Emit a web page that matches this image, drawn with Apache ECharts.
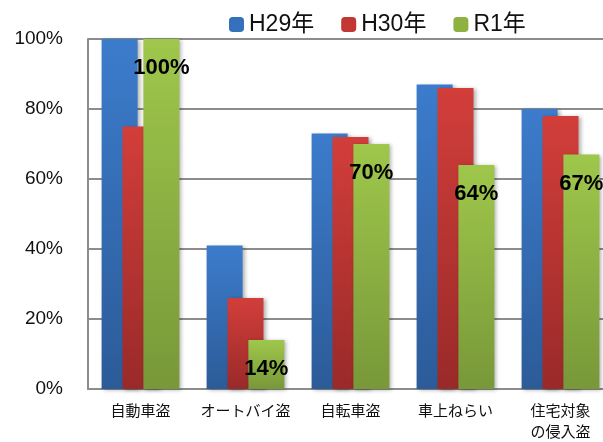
<!DOCTYPE html>
<html><head><meta charset="utf-8">
<script src="https://cdn.jsdelivr.net/npm/echarts@6/dist/echarts.min.js"></script>
<style>html,body{margin:0;padding:0;background:#fff;overflow:hidden;width:603px;height:442px}#c{width:613px;height:442px}</style>
</head><body><div id="c"></div>
<script>
var categories = ['自動車盗', 'オートバイ盗', '自転車盗', '車上ねらい', '住宅対象\nの侵入盗'];
var seriesNames = ['H29年', 'H30年', 'R1年'];
var h29 = [100, 41, 73, 87, 80];
var h30 = [75, 26, 72, 86, 78];
var r1 = [100, 14, 70, 64, 67];
var yTicks = [0, 20, 40, 60, 80, 100];

function grad(top, bottom) {
  return new echarts.graphic.LinearGradient(0, 0, 0, 1, [
    {offset: 0, color: top}, {offset: 1, color: bottom}
  ]);
}
var colors = [grad('#3c7ccc', '#2c5b98'), grad('#d23e3a', '#992a29'), grad('#9fc74b', '#789839')];
var legendColors = ['#3570bb', '#c23633', '#8db242'];
var shadow = {shadowBlur: 4, shadowColor: 'rgba(0,0,0,0.3)', shadowOffsetX: 2, shadowOffsetY: 1};

function makeSeries(i, data, extra) {
  var s = {
    name: seriesNames[i], type: 'bar', data: data, barWidth: 36, barGap: '-42%',
    itemStyle: Object.assign({color: colors[i]}, shadow)
  };
  return Object.assign(s, extra || {});
}

var chart = echarts.init(document.getElementById('c'));
chart.setOption({
  animation: false,
  textStyle: {fontFamily: '"Liberation Sans", "Noto Sans CJK JP", sans-serif'},
  legend: {
    left: 224, top: 8, itemWidth: 15, itemHeight: 15, itemGap: 27,
    textStyle: {fontSize: 23, color: '#111', fontFamily: '"Liberation Sans", "Noto Sans CJK JP", sans-serif'},
    data: seriesNames.map(function (n, i) { return {name: n, itemStyle: {color: legendColors[i]}}; })
  },
  grid: {left: 88, right: 0, top: 39, bottom: 44, containLabel: false},
  xAxis: {
    type: 'category', data: categories,
    axisLine: {lineStyle: {color: '#8c8c8c', width: 2}},
    axisTick: {show: false},
    axisLabel: {fontSize: 15, color: '#111', margin: 11, lineHeight: 21, interval: 0,
      fontFamily: '"Noto Sans CJK JP", sans-serif'}
  },
  yAxis: {
    type: 'value', min: 0, max: 100, interval: 20,
    axisLine: {show: true, lineStyle: {color: '#8c8c8c', width: 2}},
    axisTick: {show: false},
    splitLine: {lineStyle: {color: '#8c8c8c', width: 2}},
    axisLabel: {fontSize: 19, color: '#111', margin: 25,
      formatter: function (v) { return yTicks.indexOf(v) >= 0 ? v + '%' : ''; }}
  },
  series: [
    makeSeries(0, h29),
    makeSeries(1, h30),
    makeSeries(2, r1, {label: {show: true, position: 'insideTop', distance: 18, formatter: '{c}%',
      fontSize: 22, fontWeight: 'bold', color: '#000'}})
  ]
});
</script></body></html>
